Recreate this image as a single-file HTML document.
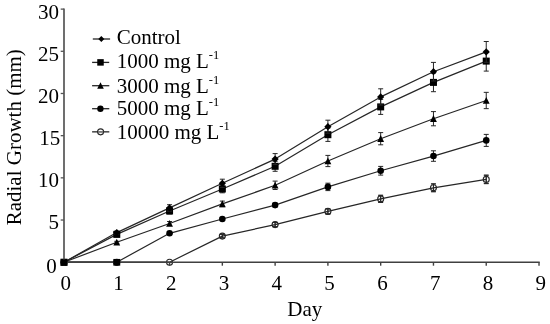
<!DOCTYPE html>
<html><head><meta charset="utf-8"><title>Radial Growth</title>
<style>
html,body{margin:0;padding:0;background:#fff;}
body{width:550px;height:324px;position:relative;overflow:hidden;}
#chart{position:absolute;left:0;top:0;width:550px;height:324px;background:#fff;overflow:hidden;will-change:transform;-webkit-font-smoothing:antialiased;font-family:"Liberation Serif",serif;color:#000;filter:blur(0.3px);}
.t{position:absolute;font-size:21px;line-height:1;white-space:nowrap;}
.yl{right:491.0px;text-align:right;}
.xl{width:40px;text-align:center;}
.lg{left:116.7px;}
.lg sup{font-size:12.5px;vertical-align:baseline;position:relative;top:-8.3px;line-height:0;}
#ylab{left:0;top:0;transform-origin:0 0;transform:translate(4.0px,225.3px) rotate(-90deg);}
</style></head><body>
<div id="chart">
<svg width="550" height="324" viewBox="0 0 550 324" style="position:absolute;left:0;top:0">
<polyline points="64.00,262.20 116.78,262.20 169.56,262.20 222.34,236.10 275.12,224.60 327.90,211.40 380.68,198.90 433.46,187.80 486.24,179.40" fill="none" stroke="#262626" stroke-width="1.2" stroke-linejoin="round"/>
<polyline points="64.00,262.20 116.78,262.20 169.56,233.30 222.34,219.00 275.12,205.10 327.90,186.90 380.68,170.75 433.46,156.05 486.24,140.40" fill="none" stroke="#262626" stroke-width="1.2" stroke-linejoin="round"/>
<polyline points="64.00,262.20 116.78,242.30 169.56,223.50 222.34,203.90 275.12,185.30 327.90,161.00 380.68,138.70 433.46,118.70 486.24,100.50" fill="none" stroke="#262626" stroke-width="1.2" stroke-linejoin="round"/>
<polyline points="64.00,262.20 116.78,234.40 169.56,211.00 222.34,189.00 275.12,166.30 327.90,134.70 380.68,106.90 433.46,82.40 486.24,61.10" fill="none" stroke="#262626" stroke-width="1.2" stroke-linejoin="round"/>
<polyline points="64.00,262.20 116.78,232.60 169.56,207.90 222.34,183.30 275.12,159.10 327.90,126.70 380.68,96.90 433.46,71.70 486.24,51.90" fill="none" stroke="#262626" stroke-width="1.2" stroke-linejoin="round"/>



<path d="M222.34 234.30V237.90M219.84 234.30H224.84M219.84 237.90H224.84" stroke="#262626" stroke-width="1.0" fill="none"/>
<path d="M275.12 222.40V226.80M272.62 222.40H277.62M272.62 226.80H277.62" stroke="#262626" stroke-width="1.0" fill="none"/>
<path d="M327.90 208.80V214.00M325.40 208.80H330.40M325.40 214.00H330.40" stroke="#262626" stroke-width="1.0" fill="none"/>
<path d="M380.68 195.30V202.50M378.18 195.30H383.18M378.18 202.50H383.18" stroke="#262626" stroke-width="1.0" fill="none"/>
<path d="M433.46 183.90V191.70M430.96 183.90H435.96M430.96 191.70H435.96" stroke="#262626" stroke-width="1.0" fill="none"/>
<path d="M486.24 175.20V183.60M483.74 175.20H488.74M483.74 183.60H488.74" stroke="#262626" stroke-width="1.0" fill="none"/>
<circle cx="64.00" cy="262.20" r="3.0" fill="none" stroke="#262626" stroke-width="1.1"/>
<circle cx="116.78" cy="262.20" r="3.0" fill="none" stroke="#262626" stroke-width="1.1"/>
<circle cx="169.56" cy="262.20" r="3.0" fill="none" stroke="#262626" stroke-width="1.1"/>
<circle cx="222.34" cy="236.10" r="3.0" fill="none" stroke="#262626" stroke-width="1.1"/>
<circle cx="275.12" cy="224.60" r="3.0" fill="none" stroke="#262626" stroke-width="1.1"/>
<circle cx="327.90" cy="211.40" r="3.0" fill="none" stroke="#262626" stroke-width="1.1"/>
<circle cx="380.68" cy="198.90" r="3.0" fill="none" stroke="#262626" stroke-width="1.1"/>
<circle cx="433.46" cy="187.80" r="3.0" fill="none" stroke="#262626" stroke-width="1.1"/>
<circle cx="486.24" cy="179.40" r="3.0" fill="none" stroke="#262626" stroke-width="1.1"/>
<path d="M222.34 234.30V237.90M220.14 234.30H224.54M220.14 237.90H224.54" stroke="#262626" stroke-width="1" fill="none"/>
<path d="M275.12 222.40V226.80M272.92 222.40H277.32M272.92 226.80H277.32" stroke="#262626" stroke-width="1" fill="none"/>
<path d="M327.90 208.80V214.00M325.70 208.80H330.10M325.70 214.00H330.10" stroke="#262626" stroke-width="1" fill="none"/>
<path d="M380.68 195.30V202.50M378.48 195.30H382.88M378.48 202.50H382.88" stroke="#262626" stroke-width="1" fill="none"/>
<path d="M433.46 183.90V191.70M431.26 183.90H435.66M431.26 191.70H435.66" stroke="#262626" stroke-width="1" fill="none"/>
<path d="M486.24 175.20V183.60M484.04 175.20H488.44M484.04 183.60H488.44" stroke="#262626" stroke-width="1" fill="none"/>


<path d="M169.56 232.30V234.30M167.06 232.30H172.06M167.06 234.30H172.06" stroke="#262626" stroke-width="1.0" fill="none"/>
<path d="M222.34 217.50V220.50M219.84 217.50H224.84M219.84 220.50H224.84" stroke="#262626" stroke-width="1.0" fill="none"/>
<path d="M275.12 203.10V207.10M272.62 203.10H277.62M272.62 207.10H277.62" stroke="#262626" stroke-width="1.0" fill="none"/>
<path d="M327.90 183.20V190.60M325.40 183.20H330.40M325.40 190.60H330.40" stroke="#262626" stroke-width="1.0" fill="none"/>
<path d="M380.68 166.40V175.10M378.18 166.40H383.18M378.18 175.10H383.18" stroke="#262626" stroke-width="1.0" fill="none"/>
<path d="M433.46 150.80V161.30M430.96 150.80H435.96M430.96 161.30H435.96" stroke="#262626" stroke-width="1.0" fill="none"/>
<path d="M486.24 134.40V146.40M483.74 134.40H488.74M483.74 146.40H488.74" stroke="#262626" stroke-width="1.0" fill="none"/>
<circle cx="64.00" cy="262.20" r="3.3" fill="#000"/>
<circle cx="116.78" cy="262.20" r="3.3" fill="#000"/>
<circle cx="169.56" cy="233.30" r="3.3" fill="#000"/>
<circle cx="222.34" cy="219.00" r="3.3" fill="#000"/>
<circle cx="275.12" cy="205.10" r="3.3" fill="#000"/>
<circle cx="327.90" cy="186.90" r="3.3" fill="#000"/>
<circle cx="380.68" cy="170.75" r="3.3" fill="#000"/>
<circle cx="433.46" cy="156.05" r="3.3" fill="#000"/>
<circle cx="486.24" cy="140.40" r="3.3" fill="#000"/>

<path d="M116.78 241.30V243.30M114.28 241.30H119.28M114.28 243.30H119.28" stroke="#262626" stroke-width="1.0" fill="none"/>
<path d="M169.56 221.50V225.50M167.06 221.50H172.06M167.06 225.50H172.06" stroke="#262626" stroke-width="1.0" fill="none"/>
<path d="M222.34 201.10V206.70M219.84 201.10H224.84M219.84 206.70H224.84" stroke="#262626" stroke-width="1.0" fill="none"/>
<path d="M275.12 181.10V189.50M272.62 181.10H277.62M272.62 189.50H277.62" stroke="#262626" stroke-width="1.0" fill="none"/>
<path d="M327.90 155.40V166.60M325.40 155.40H330.40M325.40 166.60H330.40" stroke="#262626" stroke-width="1.0" fill="none"/>
<path d="M380.68 132.60V144.80M378.18 132.60H383.18M378.18 144.80H383.18" stroke="#262626" stroke-width="1.0" fill="none"/>
<path d="M433.46 111.60V125.80M430.96 111.60H435.96M430.96 125.80H435.96" stroke="#262626" stroke-width="1.0" fill="none"/>
<path d="M486.24 92.35V108.65M483.74 92.35H488.74M483.74 108.65H488.74" stroke="#262626" stroke-width="1.0" fill="none"/>
<path d="M64.00 258.60L67.40 265.50L60.60 265.50Z" fill="#000"/>
<path d="M116.78 238.70L120.18 245.60L113.38 245.60Z" fill="#000"/>
<path d="M169.56 219.90L172.96 226.80L166.16 226.80Z" fill="#000"/>
<path d="M222.34 200.30L225.74 207.20L218.94 207.20Z" fill="#000"/>
<path d="M275.12 181.70L278.52 188.60L271.72 188.60Z" fill="#000"/>
<path d="M327.90 157.40L331.30 164.30L324.50 164.30Z" fill="#000"/>
<path d="M380.68 135.10L384.08 142.00L377.28 142.00Z" fill="#000"/>
<path d="M433.46 115.10L436.86 122.00L430.06 122.00Z" fill="#000"/>
<path d="M486.24 96.90L489.64 103.80L482.84 103.80Z" fill="#000"/>

<path d="M116.78 232.90V235.90M114.28 232.90H119.28M114.28 235.90H119.28" stroke="#262626" stroke-width="1.0" fill="none"/>
<path d="M169.56 208.00V214.00M167.06 208.00H172.06M167.06 214.00H172.06" stroke="#262626" stroke-width="1.0" fill="none"/>
<path d="M222.34 185.20V192.80M219.84 185.20H224.84M219.84 192.80H224.84" stroke="#262626" stroke-width="1.0" fill="none"/>
<path d="M275.12 161.30V171.30M272.62 161.30H277.62M272.62 171.30H277.62" stroke="#262626" stroke-width="1.0" fill="none"/>
<path d="M327.90 128.00V141.40M325.40 128.00H330.40M325.40 141.40H330.40" stroke="#262626" stroke-width="1.0" fill="none"/>
<path d="M380.68 99.40V114.40M378.18 99.40H383.18M378.18 114.40H383.18" stroke="#262626" stroke-width="1.0" fill="none"/>
<path d="M433.46 73.10V91.70M430.96 73.10H435.96M430.96 91.70H435.96" stroke="#262626" stroke-width="1.0" fill="none"/>
<path d="M486.24 51.10V71.10M483.74 51.10H488.74M483.74 71.10H488.74" stroke="#262626" stroke-width="1.0" fill="none"/>
<rect x="60.50" y="258.70" width="7.0" height="7.0" fill="#000"/>
<rect x="113.28" y="230.90" width="7.0" height="7.0" fill="#000"/>
<rect x="166.06" y="207.50" width="7.0" height="7.0" fill="#000"/>
<rect x="218.84" y="185.50" width="7.0" height="7.0" fill="#000"/>
<rect x="271.62" y="162.80" width="7.0" height="7.0" fill="#000"/>
<rect x="324.40" y="131.20" width="7.0" height="7.0" fill="#000"/>
<rect x="377.18" y="103.40" width="7.0" height="7.0" fill="#000"/>
<rect x="429.96" y="78.90" width="7.0" height="7.0" fill="#000"/>
<rect x="482.74" y="57.60" width="7.0" height="7.0" fill="#000"/>

<path d="M116.78 231.10V234.10M114.28 231.10H119.28M114.28 234.10H119.28" stroke="#262626" stroke-width="1.0" fill="none"/>
<path d="M169.56 204.70V211.10M167.06 204.70H172.06M167.06 211.10H172.06" stroke="#262626" stroke-width="1.0" fill="none"/>
<path d="M222.34 179.20V187.40M219.84 179.20H224.84M219.84 187.40H224.84" stroke="#262626" stroke-width="1.0" fill="none"/>
<path d="M275.12 153.60V164.60M272.62 153.60H277.62M272.62 164.60H277.62" stroke="#262626" stroke-width="1.0" fill="none"/>
<path d="M327.90 120.20V133.20M325.40 120.20H330.40M325.40 133.20H330.40" stroke="#262626" stroke-width="1.0" fill="none"/>
<path d="M380.68 88.80V105.00M378.18 88.80H383.18M378.18 105.00H383.18" stroke="#262626" stroke-width="1.0" fill="none"/>
<path d="M433.46 62.40V81.00M430.96 62.40H435.96M430.96 81.00H435.96" stroke="#262626" stroke-width="1.0" fill="none"/>
<path d="M486.24 41.50V62.30M483.74 41.50H488.74M483.74 62.30H488.74" stroke="#262626" stroke-width="1.0" fill="none"/>
<path d="M60.40 262.20L64.00 258.60L67.60 262.20L64.00 265.80Z" fill="#000"/>
<path d="M113.18 232.60L116.78 229.00L120.38 232.60L116.78 236.20Z" fill="#000"/>
<path d="M165.96 207.90L169.56 204.30L173.16 207.90L169.56 211.50Z" fill="#000"/>
<path d="M218.74 183.30L222.34 179.70L225.94 183.30L222.34 186.90Z" fill="#000"/>
<path d="M271.52 159.10L275.12 155.50L278.72 159.10L275.12 162.70Z" fill="#000"/>
<path d="M324.30 126.70L327.90 123.10L331.50 126.70L327.90 130.30Z" fill="#000"/>
<path d="M377.08 96.90L380.68 93.30L384.28 96.90L380.68 100.50Z" fill="#000"/>
<path d="M429.86 71.70L433.46 68.10L437.06 71.70L433.46 75.30Z" fill="#000"/>
<path d="M482.64 51.90L486.24 48.30L489.84 51.90L486.24 55.50Z" fill="#000"/>
<path d="M64.00 8.4V262.90" stroke="#555" stroke-width="1.7" fill="none"/>
<path d="M63.20 262.20H539.72" stroke="#404040" stroke-width="1.5" fill="none"/>
<path d="M60.70 262.20H64.00" stroke="#555" stroke-width="1.3"/>
<path d="M60.70 220.02H64.00" stroke="#555" stroke-width="1.3"/>
<path d="M60.70 177.84H64.00" stroke="#555" stroke-width="1.3"/>
<path d="M60.70 135.66H64.00" stroke="#555" stroke-width="1.3"/>
<path d="M60.70 93.48H64.00" stroke="#555" stroke-width="1.3"/>
<path d="M60.70 51.30H64.00" stroke="#555" stroke-width="1.3"/>
<path d="M60.70 9.12H64.00" stroke="#555" stroke-width="1.3"/>
<path d="M64.00 262.20V265.70" stroke="#404040" stroke-width="1.4"/>
<path d="M116.78 262.20V265.70" stroke="#404040" stroke-width="1.4"/>
<path d="M169.56 262.20V265.70" stroke="#404040" stroke-width="1.4"/>
<path d="M222.34 262.20V265.70" stroke="#404040" stroke-width="1.4"/>
<path d="M275.12 262.20V265.70" stroke="#404040" stroke-width="1.4"/>
<path d="M327.90 262.20V265.70" stroke="#404040" stroke-width="1.4"/>
<path d="M380.68 262.20V265.70" stroke="#404040" stroke-width="1.4"/>
<path d="M433.46 262.20V265.70" stroke="#404040" stroke-width="1.4"/>
<path d="M486.24 262.20V265.70" stroke="#404040" stroke-width="1.4"/>
<path d="M539.02 262.20V265.70" stroke="#404040" stroke-width="1.4"/>
<rect x="60.70" y="259.40" width="6.6" height="6.2" fill="#000"/>
<rect x="113.33" y="258.95" width="6.9" height="6.7" fill="#000"/>
<path d="M92.8 39.0H110.1" stroke="#262626" stroke-width="1.3"/>
<path d="M98.30 39.00L101.30 36.00L104.30 39.00L101.30 42.00Z" fill="#000"/>
<path d="M92.1 62.4H109.2" stroke="#262626" stroke-width="1.3"/>
<rect x="97.25" y="59.15" width="6.5" height="6.5" fill="#000"/>
<path d="M92.1 85.7H109.3" stroke="#262626" stroke-width="1.3"/>
<path d="M100.50 82.30L103.80 88.70L97.20 88.70Z" fill="#000"/>
<path d="M92.1 108.7H109.3" stroke="#262626" stroke-width="1.3"/>
<circle cx="100.40" cy="108.70" r="3.2" fill="#000"/>
<path d="M92.1 131.85H109.3" stroke="#262626" stroke-width="1.3"/>
<circle cx="100.60" cy="131.85" r="3.0" fill="none" stroke="#262626" stroke-width="1.1"/>
<path d="M98.00 131.85H103.20" stroke="#888" stroke-width="1.2"/>
</svg>
<div class="t yl" style="top:255.50px;right:493.2px">0</div>
<div class="t yl" style="top:211.50px">5</div>
<div class="t yl" style="top:169.50px">10</div>
<div class="t yl" style="top:127.50px;right:489.7px">15</div>
<div class="t yl" style="top:85.50px">20</div>
<div class="t yl" style="top:43.50px">25</div>
<div class="t yl" style="top:1.50px">30</div>
<div class="t xl" style="left:45.70px;top:272.50px">0</div>
<div class="t xl" style="left:98.48px;top:272.50px">1</div>
<div class="t xl" style="left:151.26px;top:272.50px">2</div>
<div class="t xl" style="left:204.04px;top:272.50px">3</div>
<div class="t xl" style="left:256.82px;top:272.50px">4</div>
<div class="t xl" style="left:309.60px;top:272.50px">5</div>
<div class="t xl" style="left:362.38px;top:272.50px">6</div>
<div class="t xl" style="left:415.16px;top:272.50px">7</div>
<div class="t xl" style="left:467.94px;top:272.50px">8</div>
<div class="t xl" style="left:520.72px;top:272.50px">9</div>
<div class="t" style="left:287.3px;top:298.50px">Day</div>
<div class="t" id="ylab">Radial Growth (mm)</div>
<div class="t lg" style="top:26.50px">Control</div>
<div class="t lg" style="top:50.50px">1000 mg L<sup>-1</sup></div>
<div class="t lg" style="top:75.50px">3000 mg L<sup>-1</sup></div>
<div class="t lg" style="top:97.50px">5000 mg L<sup>-1</sup></div>
<div class="t lg" style="top:121.50px">10000 mg L<sup>-1</sup></div>
</div>
</body></html>
